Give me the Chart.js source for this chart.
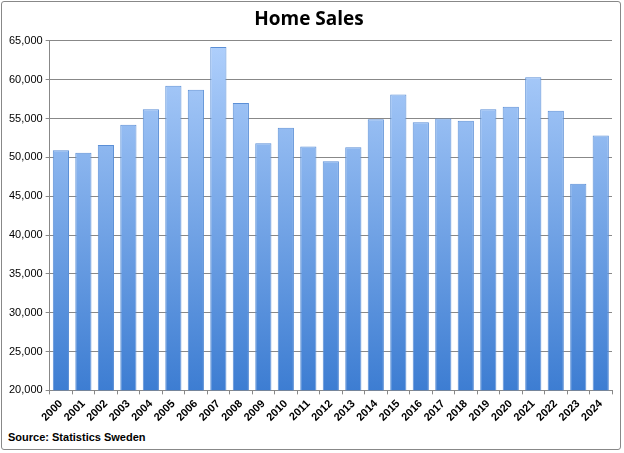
<!DOCTYPE html>
<html><head><meta charset="utf-8">
<script src="https://cdn.jsdelivr.net/npm/chart.js@4"></script>
<style>html,body{margin:0;padding:0;background:#fff}
#w{position:absolute;left:1px;top:1px;width:620px;height:449px;border:1px solid #888;border-radius:3px;box-sizing:border-box}
#src{position:absolute;left:8px;top:431px;font:bold 11px "Liberation Sans",Arial,sans-serif;color:#000}
</style></head><body>
<div id="w"><canvas id="c" width="618" height="425"></canvas></div>
<div id="src">Source: Statistics Sweden</div>
<script>
const years=["2000","2001","2002","2003","2004","2005","2006","2007","2008","2009","2010","2011","2012","2013","2014","2015","2016","2017","2018","2019","2020","2021","2022","2023","2024"];
const sales=[50900,50600,51600,54200,56200,59200,58700,64200,57000,51800,53800,51400,49500,51300,54900,58100,54500,55000,54700,56200,56500,60300,56000,46600,52800];
const yMin=20000,yMax=65000,yStep=5000;
new Chart(document.getElementById('c'),{type:'bar',
data:{labels:years,datasets:[{data:sales,borderColor:'#5b8fd6',borderWidth:1,
backgroundColor:(ctx)=>{const a=ctx.chart.chartArea;if(!a)return '#7aaaf0';const g=ctx.chart.ctx.createLinearGradient(0,a.top,0,a.bottom);g.addColorStop(0,'#b0d0fc');g.addColorStop(1,'#3d7dd2');return g;},
barPercentage:0.72,categoryPercentage:1}]},
options:{responsive:false,animation:false,
layout:{padding:{left:4,right:8,top:0,bottom:0}},
plugins:{legend:{display:false},tooltip:{enabled:false},
title:{display:true,text:'Home Sales',color:'#000',font:{family:'"Open Sans",sans-serif',size:19,weight:'bold'},padding:{top:6,bottom:10}}},
scales:{x:{grid:{display:true,drawOnChartArea:false,color:'#888',tickLength:4},border:{color:'#888'},
ticks:{color:'#000',maxRotation:45,minRotation:45,autoSkip:false,font:{family:'"Liberation Sans",Arial',size:11,weight:'bold'}}},
y:{min:yMin,max:yMax,grid:{color:'#888',tickLength:4},border:{color:'#888'},
ticks:{stepSize:yStep,color:'#000',font:{family:'"Liberation Sans",Arial',size:11},callback:v=>v.toLocaleString('en-US')}}}}});
</script></body></html>
